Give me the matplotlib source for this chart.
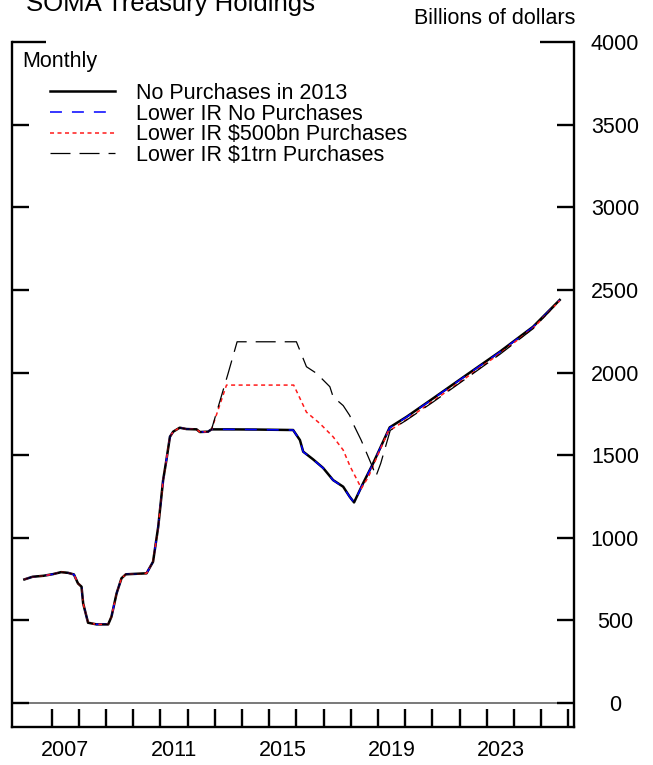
import matplotlib
matplotlib.use("Agg")
import matplotlib.pyplot as plt

plt.rcParams['font.family'] = ['Liberation Sans', 'DejaVu Sans']
plt.rcParams['lines.scale_dashes'] = False

# Shared history of SOMA Treasury holdings (decimal year, billions of dollars)
hist_years = [2006.0, 2006.3, 2006.7, 2007.05, 2007.35, 2007.6, 2007.82, 2007.97,
              2008.1, 2008.16, 2008.34, 2008.65, 2009.08, 2009.2, 2009.39, 2009.57,
              2009.73, 2010.49, 2010.73, 2010.92, 2011.1, 2011.22, 2011.35, 2011.47,
              2011.71, 2011.96, 2012.33, 2012.45, 2012.75, 2012.88]
hist_values = [748, 764, 770, 780, 792, 788, 778, 724,
               704, 603, 486, 476, 476, 522, 664, 755,
               779, 785, 855, 1067, 1349, 1470, 1611, 1642,
               1666, 1658, 1656, 1640, 1642, 1656]

# No purchases in 2013
base_years = [2013.5, 2014.5, 2015.88, 2016.13, 2016.25, 2016.61, 2016.98, 2017.35,
              2017.72, 2017.96, 2018.12, 2018.45, 2018.82, 2019.43, 2020.05, 2021.03,
              2022.25, 2023.48, 2024.70, 2025.68]
base_values = [1656, 1655, 1652, 1591, 1521, 1475, 1423, 1349,
               1309, 1248, 1214, 1329, 1450, 1668, 1732, 1844,
               1985, 2126, 2277, 2439]

# Lower interest rates, no purchases
low_none_years = base_years
low_none_values = [1656, 1655, 1652, 1590, 1520, 1474, 1422, 1348,
                   1308, 1247, 1213, 1328, 1449, 1665, 1730, 1842,
                   1983, 2124, 2275, 2438]

# Lower interest rates, $500bn purchases
low_500_years = [2013.43, 2015.9, 2016.13, 2016.37, 2016.86, 2017.35, 2017.72, 2017.98,
                 2018.2, 2018.39, 2018.65, 2018.94, 2019.37, 2020.05, 2021.03, 2022.25,
                 2023.48, 2024.70, 2025.68]
low_500_values = [1924, 1924, 1844, 1760, 1692, 1611, 1531, 1430,
                  1360, 1299, 1369, 1481, 1642, 1715, 1828, 1970,
                  2115, 2268, 2435]

# Lower interest rates, $1trn purchases
low_1t_years = [2013.49, 2013.82, 2016.0, 2016.37, 2016.74, 2017.23, 2017.35, 2017.72,
                2017.96, 2018.08, 2018.38, 2018.64, 2018.82, 2018.92, 2019.1, 2019.45,
                2020.05, 2021.03, 2022.25, 2023.48, 2024.70, 2025.68]
low_1t_values = [1995, 2186, 2186, 2035, 1995, 1914, 1853, 1800,
                 1740, 1692, 1591, 1490, 1420, 1370, 1450, 1650,
                 1712, 1822, 1965, 2110, 2265, 2435]

series_labels = ["No Purchases in 2013", "Lower IR No Purchases",
                 "Lower IR $500bn Purchases", "Lower IR $1trn Purchases"]

year_ticks = list(range(2007, 2027))
year_labels = [2007, 2011, 2015, 2019, 2023]
value_ticks = [0, 500, 1000, 1500, 2000, 2500, 3000, 3500, 4000]

FS = 15.5
W, H = 653, 765
fig = plt.figure(figsize=(W / 100, H / 100), dpi=100)
ax = fig.add_axes([12 / W, (H - 727) / H, (574 - 12) / W, (727 - 42) / H])

ax.set_xlim(2005.544, 2026.206)
ax.set_ylim(-145, 4000)

ax.axhline(0, color='#555555', lw=1.1, zorder=1)

styles = [
    dict(color='black', lw=1.8, ls='-'),
    dict(color='#0000ff', lw=1.1, dashes=(8.6, 7.2)),
    dict(color='#ff1a1a', lw=1.1, dashes=(2.9, 2.5)),
    dict(color='black', lw=0.9, dashes=(14.4, 6.5)),
]
paths = [
    (hist_years + base_years, hist_values + base_values),
    (hist_years + low_none_years, hist_values + low_none_values),
    (hist_years + low_500_years, hist_values + low_500_values),
    (hist_years + low_1t_years, hist_values + low_1t_values),
]
handles = []
for i, ((xs, ys), st, lab) in enumerate(zip(paths, styles, series_labels)):
    ln, = ax.plot(xs, ys, label=lab, zorder=2 + i, **st)
    handles.append(ln)

# Frame: left, right and bottom only
for side in ['left', 'right', 'bottom']:
    ax.spines[side].set_linewidth(1.7)
ax.spines['top'].set_visible(False)

ax.set_yticks(value_ticks[:-1])
ax.set_yticks([value_ticks[-1]], minor=True)
ax.tick_params(axis='y', which='both', direction='in', left=True, right=True,
               labelleft=False, labelright=True, width=1.7)
ax.tick_params(axis='y', which='major', length=12.3, pad=29.5, labelsize=FS)
ax.tick_params(axis='y', which='minor', length=24.5, pad=29.5, labelsize=FS)
ax.set_yticklabels([str(v) for v in value_ticks[:-1]])
ax.set_yticklabels([str(value_ticks[-1])], minor=True)
for lab in ax.get_yticklabels() + ax.get_yticklabels(minor=True):
    lab.set_horizontalalignment('center')

ax.set_xticks(year_ticks)
ax.set_xticklabels([])
ax.set_xticks([y + 0.5 for y in year_labels], minor=True)
ax.set_xticklabels([str(y) for y in year_labels], minor=True)
ax.tick_params(axis='x', which='major', direction='in', length=13, width=1.7,
               top=False)
ax.tick_params(axis='x', which='minor', length=0, pad=9.5, labelsize=FS,
               top=False)

leg = ax.legend(handles=handles, loc='upper left',
                bbox_to_anchor=(50 / W, 1 - 83 / H), bbox_transform=fig.transFigure,
                frameon=False, fontsize=FS, handlelength=3.0, handletextpad=1.0,
                labelspacing=-0.02, borderpad=0, borderaxespad=0)

fig.text(22 / W, 1 - 62 / H, "Monthly", fontsize=FS, va='center', ha='left')
fig.text(575 / W, 1 - 24 / H, "Billions of dollars", fontsize=FS,
         va='baseline', ha='right')
fig.text(26 / W, 1 - 11 / H, "SOMA Treasury Holdings", fontsize=18.5,
         va='baseline', ha='left')

fig.savefig("out.png", dpi=100)
